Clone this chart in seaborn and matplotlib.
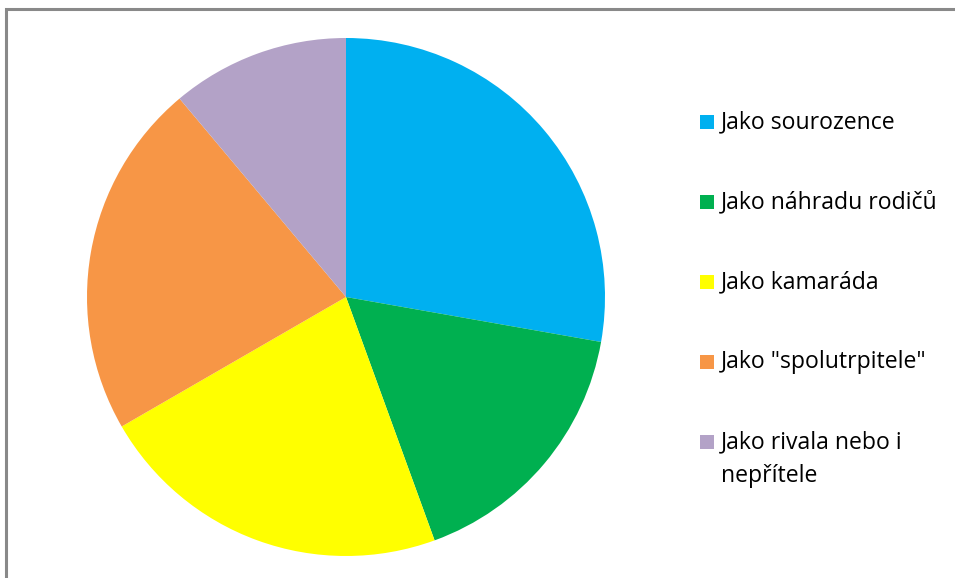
import matplotlib
matplotlib.use("Agg")
import matplotlib.pyplot as plt
from matplotlib.patches import Rectangle
import seaborn as sns

categories = [
    "Jako sourozence",
    "Jako náhradu rodičů",
    "Jako kamaráda",
    "Jako \"spolutrpitele\"",
    "Jako rivala nebo i\nnepřítele",
]
values = [25, 15, 20, 20, 10]
colors = ["#00B0F0", "#00B050", "#FFFF00", "#F79646", "#B3A2C7"]

sns.set_theme(style="white")
plt.rcParams["font.family"] = ["Open Sans", "DejaVu Sans"]

W, H = 955, 578
fig = plt.figure(figsize=(W / 100, H / 100), dpi=100)
fig.patch.set_facecolor("white")

# frame around the chart area (only left and top edges fall inside the image)
fig.patches.append(Rectangle((6 / W, -0.1), 1.2, (H - 9) / H + 0.1,
                             transform=fig.transFigure, fill=False,
                             edgecolor="#898989", linewidth=2.2))

cx, cy, r = 346, 297, 259
ax = fig.add_axes([(cx - r) / W, (H - cy - r) / H, 2 * r / W, 2 * r / H])
ax.pie(values, colors=colors, startangle=90, counterclock=False,
       radius=1, wedgeprops=dict(linewidth=0))
ax.set_xlim(-1, 1)
ax.set_ylim(-1, 1)
ax.set_axis_off()

# legend: colour squares with labels
for i, (label, color) in enumerate(zip(categories, colors)):
    yc = 122 + 80 * i
    fig.patches.append(Rectangle((700 / W, (H - yc - 7) / H), 14 / W, 14 / H,
                                 transform=fig.transFigure, facecolor=color,
                                 edgecolor="none"))
    for j, line in enumerate(label.split("\n")):
        fig.text(721 / W, (H - yc - 34 * j) / H, line, fontsize=16.6,
                 va="center", ha="left", color="#000000")

fig.savefig("out.png", dpi=100)
